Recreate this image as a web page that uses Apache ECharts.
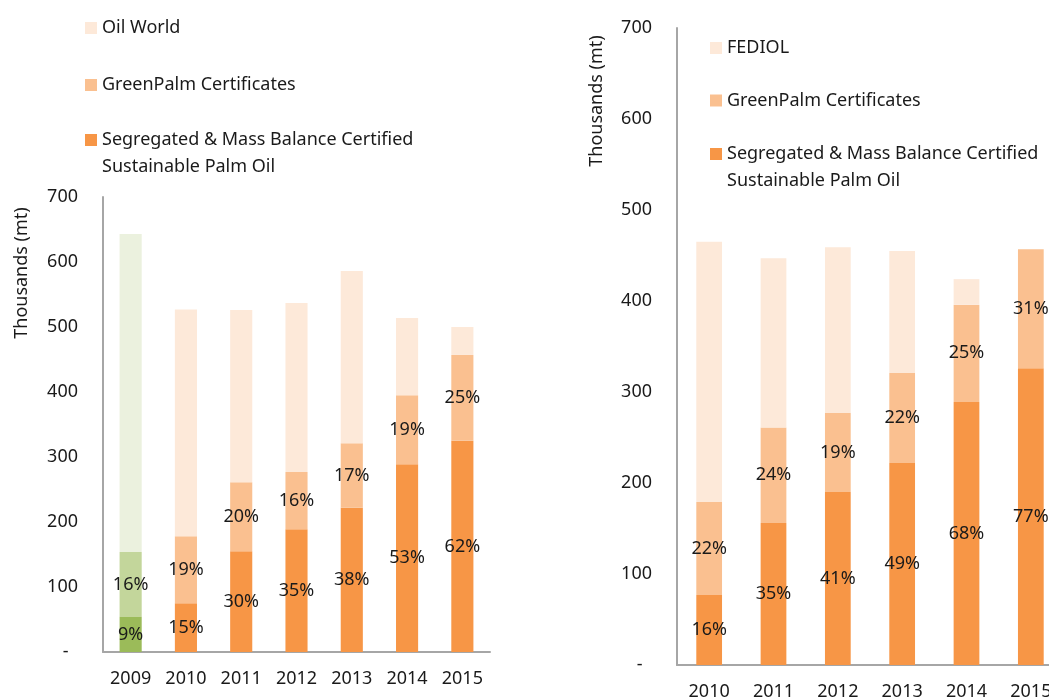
<!DOCTYPE html>
<html>
<head>
    <meta charset="utf-8">
    <title>Certified palm oil uptake</title>
    <script src="https://cdn.jsdelivr.net/npm/echarts@6/dist/echarts.min.js"></script>
    <style>
        body { margin: 0; background: #fff; }
        #main { width: 1049px; height: 700px; }
    </style>
</head>
<body>
<div id="main"></div>
<script type="text/javascript">
    // left panel: Oil World basis, 2009-2015
    var leftYears = ['2009', '2010', '2011', '2012', '2013', '2014', '2015'];
    var leftSeg = [54, 75, 155, 189, 222, 289, 325];
    var leftGp = [100, 103, 106, 88, 99, 106, 132];
    var leftOilWorld = [489, 349, 265, 260, 265, 119, 43];
    var leftSegPct = ['9%', '15%', '30%', '35%', '38%', '53%', '62%'];
    var leftGpPct = ['16%', '19%', '20%', '16%', '17%', '19%', '25%'];

    // right panel: FEDIOL basis, 2010-2015
    var rightYears = ['2010', '2011', '2012', '2013', '2014', '2015'];
    var rightSeg = [77, 156, 190, 222, 289, 326];
    var rightGp = [102, 105, 87, 99, 107, 131];
    var rightFediol = [286, 186, 182, 134, 28, 0];
    var rightSegPct = ['16%', '35%', '41%', '49%', '68%', '77%'];
    var rightGpPct = ['22%', '24%', '19%', '22%', '25%', '31%'];

    var SEG = 'Segregated & Mass Balance Certified\nSustainable Palm Oil';
    var GP = 'GreenPalm Certificates';

    var font = 'Noto Sans';
    var ink = '#1a1a1a';
    var axisGrey = '#a6a6a6';

    // 2009 is shown in green shades
    function withGreen(vals, green) {
        return vals.map(function (v, i) {
            return i === 0 ? { value: v, itemStyle: { color: green } } : v;
        });
    }

    function pctLabel(arr) {
        return {
            show: true,
            position: 'inside',
            color: ink,
            fontFamily: font,
            fontSize: 18,
            formatter: function (p) { return arr[p.dataIndex]; }
        };
    }

    // one legend per entry so each can sit where the original puts it;
    // the two-line entry gets a blank first line so the square lines up with line one
    function legendItem(name, x, y) {
        return {
            data: [name],
            left: x,
            top: y,
            padding: 0,
            orient: 'vertical',
            itemWidth: 12,
            itemHeight: 12,
            icon: 'rect',
            selectedMode: false,
            formatter: function (n) { return n.indexOf('\n') >= 0 ? ' \n' + n : n; },
            textStyle: { color: ink, fontFamily: font, fontSize: 18, lineHeight: 27 }
        };
    }

    function yAxis(idx) {
        return {
            type: 'value',
            gridIndex: idx,
            min: 0,
            max: 700,
            interval: 100,
            splitLine: { show: false },
            axisTick: { show: false },
            axisLine: { show: true, lineStyle: { color: axisGrey, width: 2 } },
            axisLabel: {
                color: ink, fontFamily: font, fontSize: 18, margin: 25,
                formatter: function (v) { return v === 0 ? '-  ' : String(v); }
            }
        };
    }

    function xAxis(idx, data) {
        return {
            type: 'category',
            gridIndex: idx,
            data: data,
            axisTick: { show: false },
            axisLine: { lineStyle: { color: axisGrey, width: 2 } },
            axisLabel: { color: ink, fontFamily: font, fontSize: 18, margin: 18 }
        };
    }

    var myChart = echarts.init(document.getElementById('main'));

    var option = {
        animation: false,
        textStyle: { fontFamily: font },
        // the right panel runs off the page edge, as in the original
        grid: [
            { left: 103, top: 197, width: 387, height: 455, outerBoundsMode: 'none' },
            { left: 677, top: 28, width: 386, height: 637, outerBoundsMode: 'none' }
        ],
        legend: [
            legendItem('Oil World', 85, 14.5),
            legendItem(GP, 85, 71.5),
            legendItem(SEG, 85, 99.5),
            legendItem('FEDIOL', 710, 34.5),
            legendItem(GP, 710, 87),
            legendItem(SEG, 710, 113.5)
        ],
        xAxis: [xAxis(0, leftYears), xAxis(1, rightYears)],
        yAxis: [yAxis(0), yAxis(1)],
        graphic: [
            {
                type: 'text', x: 22, y: 273, rotation: Math.PI / 2,
                style: { text: 'Thousands (mt)', align: 'center', verticalAlign: 'middle',
                         fill: ink, font: '18px "Noto Sans"' }
            },
            {
                type: 'text', x: 597, y: 101, rotation: Math.PI / 2,
                style: { text: 'Thousands (mt)', align: 'center', verticalAlign: 'middle',
                         fill: ink, font: '18px "Noto Sans"' }
            }
        ],
        series: [
            {
                name: SEG, type: 'bar', stack: 'L', xAxisIndex: 0, yAxisIndex: 0,
                barWidth: '40%', itemStyle: { color: '#f79646' },
                data: withGreen(leftSeg, '#9bbb59'), label: pctLabel(leftSegPct)
            },
            {
                name: GP, type: 'bar', stack: 'L', xAxisIndex: 0, yAxisIndex: 0,
                barWidth: '40%', itemStyle: { color: '#fac090' },
                data: withGreen(leftGp, '#c3d69b'), label: pctLabel(leftGpPct)
            },
            {
                name: 'Oil World', type: 'bar', stack: 'L', xAxisIndex: 0, yAxisIndex: 0,
                barWidth: '40%', itemStyle: { color: '#fde9d9' },
                data: withGreen(leftOilWorld, '#ebf1de')
            },
            {
                name: SEG, type: 'bar', stack: 'R', xAxisIndex: 1, yAxisIndex: 1,
                barWidth: '40%', itemStyle: { color: '#f79646' },
                data: rightSeg, label: pctLabel(rightSegPct)
            },
            {
                name: GP, type: 'bar', stack: 'R', xAxisIndex: 1, yAxisIndex: 1,
                barWidth: '40%', itemStyle: { color: '#fac090' },
                data: rightGp, label: pctLabel(rightGpPct)
            },
            {
                name: 'FEDIOL', type: 'bar', stack: 'R', xAxisIndex: 1, yAxisIndex: 1,
                barWidth: '40%', itemStyle: { color: '#fde9d9' },
                data: rightFediol
            }
        ]
    };

    myChart.setOption(option);
</script>
</body>
</html>
